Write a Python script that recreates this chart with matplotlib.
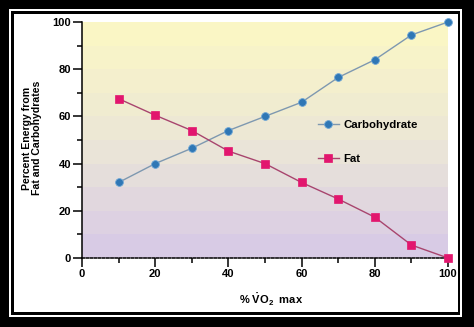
import matplotlib
matplotlib.use("Agg")
import matplotlib.pyplot as plt
from matplotlib.patches import Rectangle
import numpy as np

# Data: fuel mix across exercise intensity
vo2_pct = [10, 20, 30, 40, 50, 60, 70, 80, 90, 100]
carbohydrate = [32, 40, 46.5, 54, 60, 66, 76.5, 84, 94.5, 100]
fat = [67.5, 60.5, 54, 45.3, 40, 32, 25, 17.3, 5.5, 0]

x_ticks = [0, 20, 40, 60, 80, 100]
y_ticks = [0, 20, 40, 60, 80, 100]

plt.rcParams['font.family'] = ['Liberation Sans', 'DejaVu Sans']
plt.rcParams['font.weight'] = 'bold'
plt.rcParams['mathtext.fontset'] = 'custom'
plt.rcParams['mathtext.rm'] = 'Liberation Sans:bold'
plt.rcParams['mathtext.bf'] = 'Liberation Sans:bold'
plt.rcParams['mathtext.it'] = 'Liberation Sans:bold'

W, H = 474, 327
fig = plt.figure(figsize=(W / 100, H / 100), dpi=100, facecolor='black')


def px_rect(x0, y0, x1, y1, color, z):
    # rectangle given in pixel coords with origin at top-left
    fig.patches.append(Rectangle((x0 / W, 1 - y1 / H), (x1 - x0) / W, (y1 - y0) / H,
                                 transform=fig.transFigure, facecolor=color,
                                 edgecolor='none', zorder=z))


# double-line frame
px_rect(9, 9, 462, 316.5, 'white', -3)
px_rect(11, 11, 460, 314.5, 'black', -2)
px_rect(13.5, 13.5, 457.5, 311.5, 'white', -1)

ax = fig.add_axes([82 / W, 1 - 258 / H, (448 - 82) / W, (258 - 22) / H])
ax.set_xlim(0, 100)
ax.set_ylim(0, 100)
ax.patch.set_alpha(0)

# banded background: yellow at top fading to lavender at bottom
top_c = np.array([0.985, 0.972, 0.765])
mid_c = np.array([0.925, 0.905, 0.840])
bot_c = np.array([0.840, 0.785, 0.905])
for i in range(10):
    t = (i + 0.5) / 10
    if t >= 0.5:
        c = mid_c + (top_c - mid_c) * (t - 0.5) / 0.5
    else:
        c = bot_c + (mid_c - bot_c) * t / 0.5
    ax.axhspan(i * 10, (i + 1) * 10, color=c, lw=0, zorder=0)

ax.plot(vo2_pct, carbohydrate, color='#7e98b0', lw=1.0, marker='o', ms=5.6,
        mfc='#2f77b5', mec='#6ea6d6', mew=0.6, zorder=3, clip_on=False,
        label='Carbohydrate')
ax.plot(vo2_pct, fat, color='#a8456e', lw=1.0, marker='s', ms=5.3,
        mfc='#e2166e', mec='#e2166e', mew=0.5, zorder=3, clip_on=False,
        label='Fat')

for s in ['top', 'right']:
    ax.spines[s].set_visible(False)
ax.spines['left'].set_linewidth(1.1)
ax.spines['bottom'].set_linewidth(1.1)
ax.spines['bottom'].set_linestyle((0, (1.5, 1.2)))

ax.set_xticks(x_ticks)
ax.set_yticks(y_ticks)
ax.set_xticks([10, 30, 50, 70, 90], minor=True)
ax.set_yticks([10, 30, 50, 70, 90], minor=True)
ax.tick_params(axis='both', which='major', direction='out', length=6.5, width=1.1,
               labelsize=8, pad=1.5)
ax.tick_params(axis='both', which='minor', direction='out', length=3.5, width=1.1)
for lab in ax.get_xticklabels() + ax.get_yticklabels():
    lab.set_fontweight('bold')

leg = ax.legend(loc='center left', bbox_to_anchor=(0.645, 0.49), frameon=False,
                fontsize=8.2, handlelength=1.8, handletextpad=0.4, labelspacing=2.1,
                borderpad=0, borderaxespad=0)
for t in leg.get_texts():
    t.set_fontweight('bold')

fig.text(32 / W, 1 - 138 / H, 'Percent Energy from\nFat and Carbohydrates',
         rotation=90, ha='center', va='center', fontsize=7.6, fontweight='bold',
         linespacing=1.05)
fig.text(271 / W, 1 - 300 / H, r'% $\dot{\mathrm{V}}\mathrm{O}_\mathrm{2}$  max',
         ha='center', va='center', fontsize=8, fontweight='bold')

fig.savefig('out.png', dpi=100, facecolor='black')
